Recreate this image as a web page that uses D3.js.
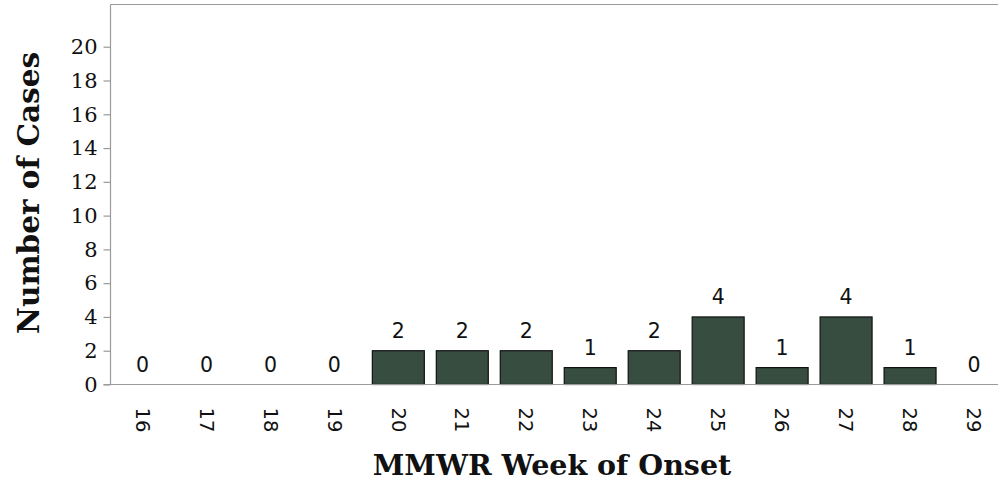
<!DOCTYPE html>
<html><head><meta charset="utf-8">
<script src="https://cdn.jsdelivr.net/npm/d3@7"></script>
<style>body{margin:0;background:#fff;} svg{display:block;}</style>
</head><body>
<svg id="c" width="998" height="497"></svg>
<script>
const weeks = ["16","17","18","19","20","21","22","23","24","25","26","27","28","29"];
const cases = [0,0,0,0,2,2,2,1,2,4,1,4,1,0];
const yTicks = [0,2,4,6,8,10,12,14,16,18,20];
const yTitle = "Number of Cases";
const xTitle = "MMWR Week of Onset";

(function(){
const svg = d3.select("#c");
const pLeft = 110.5, pRight = 1006, pTop = 4.5, pBottom = 384.5;
const x = d3.scaleBand().domain(weeks).range([pLeft, pRight]).paddingInner(0.1875).paddingOuter(0.09375);
const y = d3.scaleLinear().domain([0, 22.5]).range([pBottom, pTop]);
const axisColor = "#9a9a9a";

svg.append("line").attr("x1", pLeft).attr("x2", 998).attr("y1", pTop).attr("y2", pTop)
  .attr("stroke", axisColor).attr("stroke-width", 1.2);

const ya = svg.append("g").attr("transform", `translate(${pLeft},0)`)
  .call(d3.axisLeft(y).tickValues(yTicks).tickSize(7).tickPadding(6).tickFormat(d3.format("d")));
ya.select(".domain").attr("stroke", axisColor).attr("stroke-width", 1.2).attr("d", `M0,${pTop}V${pBottom}`);
ya.selectAll(".tick line").attr("stroke", axisColor).attr("stroke-width", 1.2);
ya.selectAll(".tick text").attr("font-family", "Georgia, 'DejaVu Serif', serif").attr("font-size", 21).attr("fill", "#111");

const data = weeks.map((w,i)=>({w, v:cases[i]}));
svg.append("g").selectAll("rect").data(data.filter(d=>d.v>0))
  .join("rect")
  .attr("x", d => x(d.w)).attr("width", x.bandwidth())
  .attr("y", d => y(d.v)).attr("height", d => y(0) - y(d.v))
  .attr("fill", "#374d40").attr("stroke", "#111").attr("stroke-width", 1.2);

const xa = svg.append("g").attr("transform", `translate(0,${pBottom})`)
  .call(d3.axisBottom(x).tickSize(0).tickPadding(0));
xa.select(".domain").attr("stroke", axisColor).attr("stroke-width", 1.2).attr("d", `M${pLeft-7},0H998`);
xa.selectAll(".tick text")
  .attr("font-family", "'DejaVu Sans', Verdana, sans-serif").attr("font-size", 19.5).attr("fill", "#111")
  .attr("transform", "translate(0,23) rotate(90)")
  .attr("text-anchor", "start").attr("dy", "0.35em").attr("y", 0).attr("x", 0);

svg.append("g").selectAll("text").data(data)
  .join("text")
  .attr("x", d => x(d.w) + x.bandwidth()/2)
  .attr("y", d => y(d.v) - 13)
  .attr("text-anchor", "middle")
  .attr("font-family", "'DejaVu Sans', Verdana, sans-serif").attr("font-size", 20.5).attr("fill", "#111")
  .text(d => d.v);

svg.append("text").attr("transform", "translate(39,193) rotate(-90)").attr("text-anchor", "middle")
  .attr("font-family", "Georgia, 'DejaVu Serif', serif").attr("font-weight", "bold").attr("font-size", 29.5)
  .attr("fill", "#111").text(yTitle);
svg.append("text").attr("x", 552).attr("y", 475).attr("text-anchor", "middle")
  .attr("font-family", "Georgia, 'DejaVu Serif', serif").attr("font-weight", "bold").attr("font-size", 28.5)
  .attr("fill", "#111").text(xTitle);
})();
</script>
</body></html>
